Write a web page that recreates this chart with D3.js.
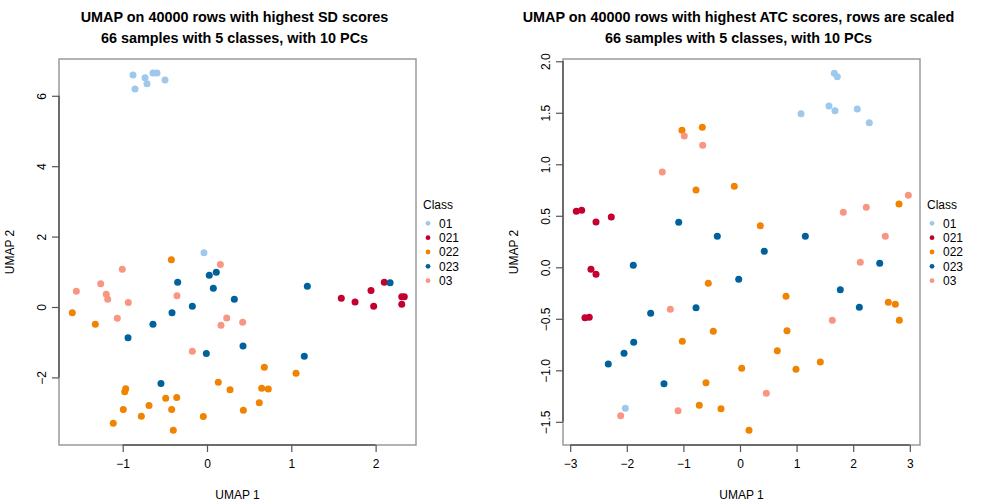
<!DOCTYPE html>
<html><head><meta charset="utf-8">
<script src="https://cdn.jsdelivr.net/npm/d3@7"></script>
<style>body{margin:0;background:#fff}svg{display:block}text{font-family:"Liberation Sans",Arial,Helvetica,sans-serif}</style>
</head><body><svg id="c" width="1008" height="504"></svg>
<script>
const classes = ["01","021","022","023","03"];
const colors = ["#9fc9ec","#c4002f","#f08400","#00629c","#f99682"];

// Left panel: UMAP on SD rows
const sd01 = [[-0.878,6.59],[-0.854,6.19],[-0.735,6.51],[-0.712,6.34],[-0.641,6.65],[-0.593,6.65],[-0.498,6.45],[-0.036,1.54]];
const sd021 = [[2.103,0.70],[1.945,0.47],[1.593,0.25],[1.756,0.14],[1.977,0.02],[2.31,0.29],[2.34,0.29],[2.31,0.08]];
const sd022 = [[-0.423,1.34],[-1.598,-0.16],[-1.325,-0.49],[0.680,-1.71],[1.056,-1.88],[-0.964,-2.32],[-0.976,-2.41],[0.134,-2.14],[0.273,-2.35],[0.649,-2.31],[0.727,-2.33],[-0.688,-2.80],[-0.490,-2.59],[-0.359,-2.57],[-0.993,-2.91],[-0.419,-2.91],[0.620,-2.72],[0.431,-2.93],[-0.779,-3.10],[-0.044,-3.11],[-1.112,-3.30],[-0.400,-3.50]];
const sd023 = [[2.172,0.69],[1.19,0.59],[1.154,-1.40],[0.027,0.90],[0.110,0.99],[-0.348,0.70],[0.075,0.53],[0.324,0.22],[-0.174,0.02],[-0.415,-0.16],[-0.641,-0.49],[-0.937,-0.87],[0.427,-1.11],[-0.008,-1.32],[-0.546,-2.17]];
const sd03 = [[-1.005,1.07],[0.158,1.21],[-1.261,0.66],[-1.550,0.45],[-1.195,0.36],[-1.178,0.22],[-0.356,0.32],[-0.934,0.13],[-1.064,-0.32],[0.234,-0.31],[0.166,-0.52],[0.423,-0.43],[-0.174,-1.26]];

// Right panel: UMAP on ATC rows
const atc01 = [[1.666,1.883],[1.719,1.850],[1.572,1.566],[1.678,1.520],[2.072,1.537],[2.284,1.404],[1.078,1.491],[-2.026,-1.369]];
const atc021 = [[-2.892,0.544],[-2.797,0.553],[-2.544,0.440],[-2.274,0.488],[-2.633,-0.019],[-2.544,-0.068],[-2.739,-0.489],[-2.663,-0.485]];
const atc022 = [[-1.025,1.330],[-0.666,1.359],[-0.777,0.750],[-0.101,0.786],[0.359,0.404],[2.809,0.615],[-0.560,-0.155],[-0.472,-0.621],[-1.019,-0.718],[0.813,-0.282],[2.620,-0.340],[2.744,-0.359],[2.815,-0.515],[0.830,-0.616],[0.659,-0.810],[1.419,-0.919],[0.030,-0.981],[0.989,-0.990],[0.159,-1.583],[-0.601,-1.120],[-0.719,-1.340],[-0.336,-1.373]];
const atc023 = [[-1.083,0.437],[-0.401,0.301],[-1.885,0.019],[-0.023,-0.117],[-1.578,-0.447],[-0.777,-0.392],[-1.878,-0.728],[1.154,0.301],[0.429,0.155],[2.468,0.039],[1.772,-0.217],[2.108,-0.388],[-2.049,-0.835],[-2.327,-0.939],[-1.343,-1.130]];
const atc03 = [[-0.984,1.275],[-0.659,1.184],[-1.373,0.925],[2.974,0.699],[2.231,0.583],[1.825,0.534],[2.567,0.301],[2.125,0.049],[1.631,-0.515],[-1.231,-0.408],[-2.108,-1.441],[-1.095,-1.392],[0.465,-1.223]];

const leftTicksX = [-1,0,1,2];
const leftTicksY = [-2,0,2,4,6];
const rightTicksX = [-3,-2,-1,0,1,2,3];
const rightTicksY = [-1.5,-1.0,-0.5,0.0,0.5,1.0,1.5,2.0];

const titlesLeft = ["UMAP on 40000 rows with highest SD scores","66 samples with 5 classes, with 10 PCs"];
const titlesRight = ["UMAP on 40000 rows with highest ATC scores, rows are scaled","66 samples with 5 classes, with 10 PCs"];

const svg = d3.select("#c");

function panel(opts){
  const {x0,x1,y0,y1,xdom,ydom,series,tx,ty,titles,yfmt} = opts;
  const g = svg.append("g");
  const x = d3.scaleLinear().domain(xdom).range([x0,x1]);
  const y = d3.scaleLinear().domain(ydom).range([y1,y0]);
  g.append("rect").attr("x",x0).attr("y",y0).attr("width",x1-x0).attr("height",y1-y0)
    .attr("fill","none").attr("stroke","#9a9a9a").attr("stroke-width",1.5);
  const xa = g.append("g").attr("transform",`translate(0,${y1})`)
    .call(d3.axisBottom(x).tickValues(tx).tickSize(7).tickPadding(7).tickFormat(d3.format("d")));
  const ya = g.append("g").attr("transform",`translate(${x0},0)`)
    .call(d3.axisLeft(y).tickValues(ty).tickSize(7).tickPadding(4).tickFormat(yfmt));
  [xa,ya].forEach(a=>{
    a.select(".domain").attr("stroke","#555").attr("stroke-width",1.5);
    a.selectAll(".tick line").attr("stroke","#555").attr("stroke-width",1.2);
    a.selectAll("text").attr("font-size",12).attr("fill","#000")
      .style("font-family",'"Liberation Sans",Arial,sans-serif');
  });
  xa.select(".domain").attr("d",`M${x(tx[0])},0H${x(tx[tx.length-1])}`);
  ya.select(".domain").attr("d",`M0,${y(ty[0])}V${y(ty[ty.length-1])}`);
  ya.selectAll(".tick text").attr("transform","rotate(-90)").attr("text-anchor","middle")
    .attr("x",0).attr("y",-13).attr("dy","0");
  series.forEach((s,i)=>{
    g.append("g").selectAll("circle").data(s).join("circle")
      .attr("cx",d=>x(d[0])).attr("cy",d=>y(d[1])).attr("r",3.5)
      .attr("fill",colors[i]);
  });
  const cx = (x0+x1)/2 - 3;
  titles.forEach((t,i)=>{
    g.append("text").attr("x",cx).attr("y",22+i*21).attr("text-anchor","middle")
      .attr("font-size",14.4).attr("font-weight","bold").text(t);
  });
  g.append("text").attr("x",(x0+x1)/2).attr("y",499).attr("text-anchor","middle").attr("font-size",12).text("UMAP 1");
  g.append("text").attr("transform",`translate(${x0-45},${(y0+y1)/2}) rotate(-90)`).attr("text-anchor","middle")
    .attr("font-size",12).text("UMAP 2");
  const lx = x1+7;
  g.append("text").attr("x",lx).attr("y",209).attr("font-size",12).text("Class");
  classes.forEach((c,i)=>{
    const yy = 223.3 + i*14.35;
    g.append("circle").attr("cx",lx+5).attr("cy",yy).attr("r",2.4).attr("fill",colors[i]);
    g.append("text").attr("x",lx+16).attr("y",yy+4.3).attr("font-size",12).text(c);
  });
}

panel({x0:59,x1:416,y0:59,y1:445,xdom:[-1.7556,2.479],ydom:[-3.92,7.045],
  series:[sd01,sd021,sd022,sd023,sd03],tx:leftTicksX,ty:leftTicksY,titles:titlesLeft,yfmt:d3.format("d")});
panel({x0:563,x1:920,y0:59,y1:445,xdom:[-3.127,3.180],ydom:[-1.725,2.022],
  series:[atc01,atc021,atc022,atc023,atc03],tx:rightTicksX,ty:rightTicksY,titles:titlesRight,yfmt:d3.format(".1f")});
</script></body></html>
